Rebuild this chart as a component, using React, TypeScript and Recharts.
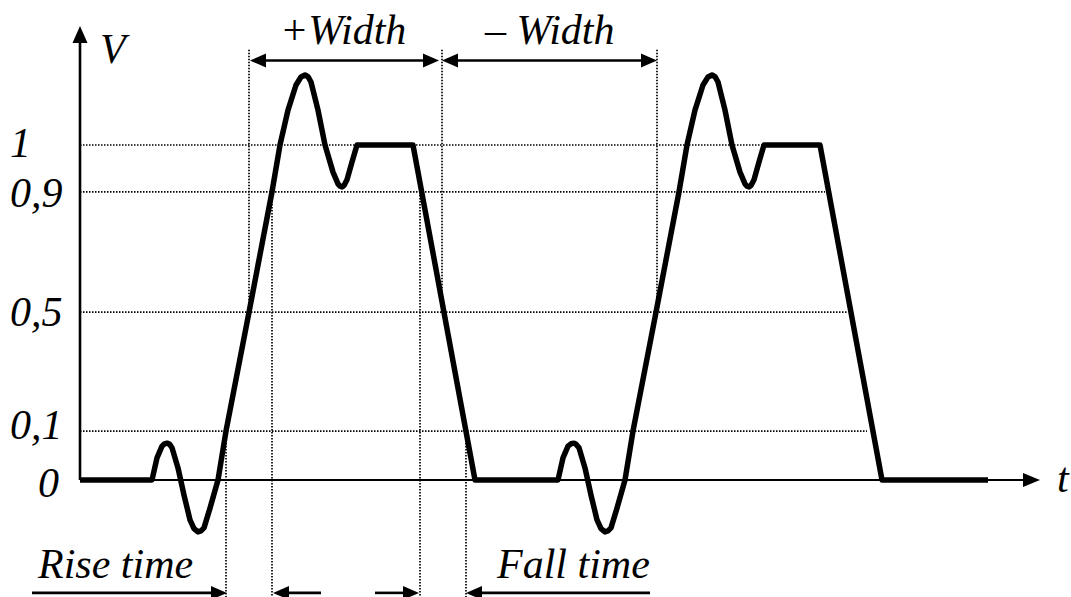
import React from "react";
import { LineChart, Line, XAxis, YAxis, ReferenceLine, ReferenceDot } from "recharts";

// time in arbitrary units, voltage in "drawn" units (schematic, not to scale)
const waveT = [
  0, 7.2, 7.7, 8.2, 8.45, 8.7, 8.95, 9.2, 9.8, 10.4, 11.0, 11.4, 11.8, 12.1, 12.4, 13.0, 13.8, 14.6, 16.9, 19.2, 20.0,
  20.8, 21.6, 22.1, 22.5, 22.8, 23.1, 23.8, 24.5, 25.3, 25.8, 26.0, 26.2, 26.4, 26.7, 27.2, 27.7, 33.3, 39.5,
  47.8, 48.3, 48.8, 49.1, 49.4, 49.6, 49.9, 50.5, 51.1, 51.7, 52.1, 52.5, 52.8, 53.1, 53.7, 54.5, 55.3, 57.6, 59.9, 60.7,
  61.5, 62.3, 62.8, 63.2, 63.5, 63.8, 64.5, 65.2, 66.0, 66.5, 66.7, 66.9, 67.1, 67.4, 67.9, 68.4, 74.0, 80.2, 90.8,
];
const waveV = [
  0, 0, 0.066, 0.101, 0.108, 0.11, 0.107, 0.096, 0.036, -0.045, -0.119, -0.145, -0.155, -0.152, -0.143, -0.084, 0, 0.146, 0.501, 0.86, 1,
  1.104, 1.179, 1.203, 1.209, 1.204, 1.188, 1.104, 1, 0.919, 0.884, 0.877, 0.875, 0.879, 0.896, 0.949, 1, 1, 0,
  0, 0.066, 0.101, 0.108, 0.11, 0.107, 0.096, 0.036, -0.045, -0.119, -0.145, -0.155, -0.152, -0.143, -0.084, 0, 0.146, 0.501, 0.86, 1,
  1.104, 1.179, 1.203, 1.209, 1.204, 1.188, 1.104, 1, 0.919, 0.884, 0.877, 0.875, 0.879, 0.896, 0.949, 1, 1, 0, 0,
];

const yLevels = [0, 0.146, 0.501, 0.86, 1];
const yLabels = ["0", "0,1", "0,5", "0,9", "1"];
// where each dotted level line stops (second falling edge)
const gridLevels = [0.146, 0.501, 0.86, 1];
const gridEnds = [78.7, 76.7, 74.5, 74.0];

// vertical dotted guides: t, from v, to v
const guideT = [14.6, 19.2, 16.9, 36.2, 34.0, 38.6, 57.7];
const guideFrom = [0.146, 0.86, 1.284, 1.284, 0.86, 0.146, 1.284];
const guideTo = [-0.35, -0.35, 0.501, 0.501, -0.35, -0.35, 0.501];

const data = waveT.map((t, i) => ({ t, v: waveV[i] }));

const font = "'Liberation Serif', 'Times New Roman', serif";

type Head = "start" | "end" | "both";

const arrowShape = (head: Head, w = 2.6, len = 16, half = 7) => (p: any) => {
  const { x1, y1, x2, y2 } = p;
  const dx = x2 - x1, dy = y2 - y1;
  const L = Math.hypot(dx, dy) || 1;
  const ux = dx / L, uy = dy / L;
  const tri = (tx: number, ty: number, sx: number, sy: number) => {
    const bx = tx - sx * len, by = ty - sy * len;
    return `${tx},${ty} ${bx - sy * half},${by + sx * half} ${bx + sy * half},${by - sx * half}`;
  };
  const s = head === "start" || head === "both";
  const e = head === "end" || head === "both";
  return (
    <g>
      <line
        x1={s ? x1 + ux * (len - 2) : x1}
        y1={s ? y1 + uy * (len - 2) : y1}
        x2={e ? x2 - ux * (len - 2) : x2}
        y2={e ? y2 - uy * (len - 2) : y2}
        stroke="#000"
        strokeWidth={w}
      />
      {e && <polygon points={tri(x2, y2, ux, uy)} fill="#000" />}
      {s && <polygon points={tri(x1, y1, -ux, -uy)} fill="#000" />}
    </g>
  );
};

const caption = (text: string, dx = 0, dy = 0) => (p: any) => (
  <text x={p.cx + dx} y={p.cy + dy} fontFamily={font} fontStyle="italic" fontSize={42} fill="#000">
    {text}
  </text>
);

// label nudges (pixels) for the level labels on the left
const tickNudge: Record<string, [number, number]> = {
  "0": [28, 17],
  "0,1": [0, 8],
  "0,5": [0, 14],
  "0,9": [0, 15],
  "1": [0, 12],
};

const dotted = { stroke: "#000", strokeWidth: 1.7, strokeDasharray: "1.5 1.5" };

export default function App() {
  return (
    <div style={{ position: "absolute", left: 0, top: 0, background: "#fff" }}>
      <LineChart width={1071} height={597} data={data} margin={{ top: 0, right: 0, bottom: 0, left: 0 }}>
        <XAxis type="number" dataKey="t" domain={[-8, 99.1]} allowDataOverflow hide />
        <YAxis type="number" domain={[-0.3493, 1.4328]} allowDataOverflow hide />

        {gridLevels.map((lvl, i) => (
          <ReferenceLine
            key={"g" + i}
            segment={[{ x: 0, y: lvl }, { x: gridEnds[i], y: lvl }]}
            {...dotted}
            ifOverflow="visible"
          />
        ))}
        {guideT.map((t, i) => (
          <ReferenceLine
            key={"v" + i}
            segment={[{ x: t, y: guideFrom[i] }, { x: t, y: guideTo[i] }]}
            {...dotted}
            ifOverflow="visible"
          />
        ))}

        {/* axes */}
        <ReferenceLine segment={[{ x: 0, y: 0 }, { x: 96, y: 0 }]} ifOverflow="visible" shape={arrowShape("end", 2, 17, 7)} />
        <ReferenceLine segment={[{ x: 0, y: 0 }, { x: 0, y: 1.355 }]} ifOverflow="visible" shape={arrowShape("end", 2.6, 17, 7.5)} />

        <Line
          type="linear"
          dataKey="v"
          stroke="#000"
          strokeWidth={5.5}
          strokeLinejoin="round"
          dot={false}
          activeDot={false}
          isAnimationActive={false}
        />

        {/* dimension arrows */}
        <ReferenceLine segment={[{ x: 17.0, y: 1.252 }, { x: 35.9, y: 1.252 }]} ifOverflow="visible" shape={arrowShape("both")} />
        <ReferenceLine segment={[{ x: 36.2, y: 1.252 }, { x: 57.7, y: 1.252 }]} ifOverflow="visible" shape={arrowShape("both")} />
        <ReferenceLine segment={[{ x: -4.8, y: -0.337 }, { x: 14.7, y: -0.337 }]} ifOverflow="visible" shape={arrowShape("end")} />
        <ReferenceLine segment={[{ x: 19.3, y: -0.337 }, { x: 24.1, y: -0.337 }]} ifOverflow="visible" shape={arrowShape("start")} />
        <ReferenceLine segment={[{ x: 29.5, y: -0.337 }, { x: 33.9, y: -0.337 }]} ifOverflow="visible" shape={arrowShape("end")} />
        <ReferenceLine segment={[{ x: 38.6, y: -0.337 }, { x: 57.0, y: -0.337 }]} ifOverflow="visible" shape={arrowShape("start")} />

        {/* level labels */}
        {yLevels.map((lvl, i) => (
          <ReferenceDot
            key={"l" + i}
            x={-7.0}
            y={lvl}
            ifOverflow="visible"
            shape={caption(yLabels[i], tickNudge[yLabels[i]][0], tickNudge[yLabels[i]][1])}
          />
        ))}

        {/* captions */}
        <ReferenceDot x={2.0} y={1.245} ifOverflow="visible" shape={caption("V")} />
        <ReferenceDot x={97.7} y={-0.036} ifOverflow="visible" shape={caption("t")} />
        <ReferenceDot x={20.0} y={1.301} ifOverflow="visible" shape={caption("+Width")} />
        <ReferenceDot x={40.5} y={1.301} ifOverflow="visible" shape={caption("– Width")} />
        <ReferenceDot x={-4.2} y={-0.2925} ifOverflow="visible" shape={caption("Rise time")} />
        <ReferenceDot x={41.7} y={-0.2925} ifOverflow="visible" shape={caption("Fall time")} />
      </LineChart>
    </div>
  );
}
